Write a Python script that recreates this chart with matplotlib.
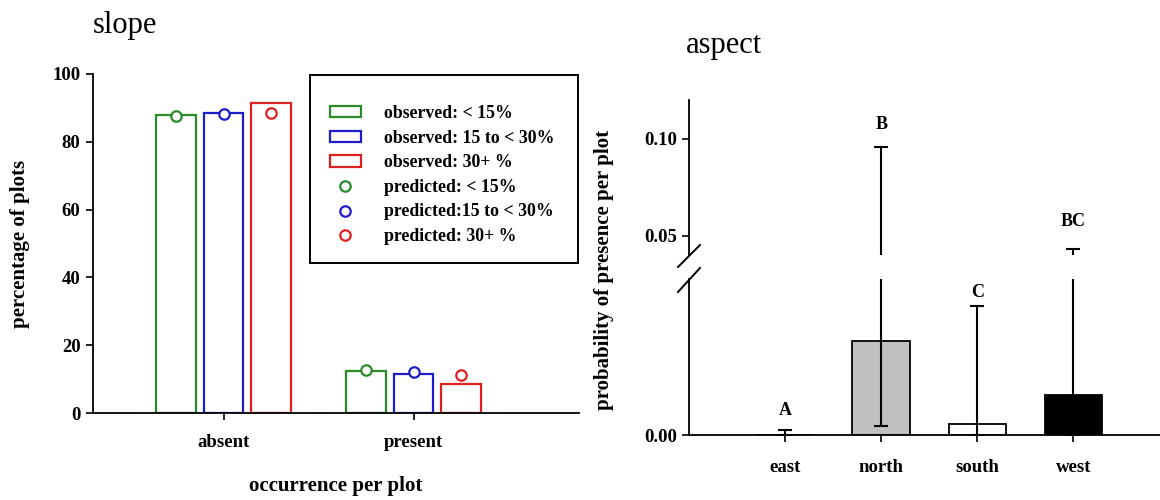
import numpy as np
import matplotlib
matplotlib.use("Agg")
import matplotlib.pyplot as plt
from matplotlib.patches import Patch, Rectangle
from matplotlib.lines import Line2D

plt.rcParams['font.family'] = ['Liberation Serif', 'DejaVu Serif']
plt.rcParams['font.weight'] = 'bold'
plt.rcParams['axes.labelweight'] = 'bold'

# slope panel data
occurrence = ["absent", "present"]
slope_classes = ["< 15%", "15 to < 30%", "30+ %"]
observed = {"< 15%": [87.8, 12.3], "15 to < 30%": [88.5, 11.5], "30+ %": [91.3, 8.7]}
predicted = {"< 15%": [87.6, 12.7], "15 to < 30%": [88.1, 12.0], "30+ %": [88.6, 11.3]}
slope_colors = ["#2a8a2a", "#1c1cc8", "#e02020"]
obs_labels = ["observed: < 15%", "observed: 15 to < 30%", "observed: 30+ %"]
pred_labels = ["predicted: < 15%", "predicted:15 to < 30%", "predicted: 30+ %"]

# aspect panel data
aspects = ["east", "north", "south", "west"]
prob = [0.0, 0.0120, 0.0014, 0.0051]
err_low = [0.0, 0.0109, 0.0014, 0.0051]
err_high = [0.00064, 0.0839, 0.0152, 0.0380]
aspect_fill = ["white", "#c0c0c0", "white", "black"]
letters = ["A", "B", "C", "BC"]
letter_y = [0.0032, 0.1076, 0.0183, 0.0572]

W, H = 1160, 500
fig = plt.figure(figsize=(W / 100, H / 100), dpi=100)

def fpos(l, r, t, b):
    return [l / W, 1 - b / H, (r - l) / W, (b - t) / H]

TICK = 13.5

##########################################################################
# slope
ax = fig.add_axes(fpos(93, 579, 74, 413))
x = np.arange(len(occurrence))
bw = 0.21
step = 0.25
for i, cls in enumerate(slope_classes):
    xi = x + (i - 1) * step
    ax.bar(xi, observed[cls], width=bw, facecolor="white", edgecolor=slope_colors[i], linewidth=1.6)
    ax.plot(xi, predicted[cls], 'o', mfc="white", mec=slope_colors[i], mew=1.6, ms=7.5, zorder=5)
ax.set_xlim(-0.687, 1.871)
ax.set_ylim(0, 100)
ax.set_yticks([0, 20, 40, 60, 80, 100])
ax.set_xticks(x)
ax.set_xticklabels(occurrence)
for s in ["top", "right"]:
    ax.spines[s].set_visible(False)
for s in ["left", "bottom"]:
    ax.spines[s].set_linewidth(1.3)
ax.tick_params(axis='both', direction='out', length=5, width=1.2, labelsize=TICK, pad=4)
ax.tick_params(axis='x', pad=10)
ax.set_ylabel("percentage of plots", fontsize=15, labelpad=16)
fig.text(336 / W, 1 - 486 / H, "occurrence per plot", ha='center', va='center',
         fontsize=15, fontweight='bold')
fig.text(93 / W, 1 - 25 / H, "slope", ha='left', va='center', fontsize=22, fontweight='normal')

handles = []
labels = []
for i in range(3):
    handles.append(Patch(facecolor="white", edgecolor=slope_colors[i], linewidth=1.6))
    labels.append(obs_labels[i])
for i in range(3):
    handles.append(Line2D([], [], ls='none', marker='o', mfc="white", mec=slope_colors[i], mew=1.6, ms=7.5))
    labels.append(pred_labels[i])
leg = ax.legend(handles, labels, loc='upper left', bbox_to_anchor=(321 / W, 1 - 96 / H),
                bbox_transform=fig.transFigure, frameon=False, fontsize=12.8,
                handlelength=1.75, handleheight=0.6, handletextpad=1.3, labelspacing=0.43,
                borderpad=0.0)
fig.patches.append(Rectangle((310 / W, 1 - 263 / H), 268 / W, 188 / H, transform=fig.transFigure,
                             fill=False, edgecolor="black", linewidth=1.4))

##########################################################################
# aspect, broken axis
axl = fig.add_axes(fpos(689, 1160, 279, 435))
axu = fig.add_axes(fpos(689, 1160, 100, 255))
xa = np.arange(len(aspects))
for a in (axl, axu):
    a.bar(xa, prob, width=0.6, color=aspect_fill, edgecolor="black", linewidth=1.3)
    a.errorbar(xa, prob, yerr=[err_low, err_high], fmt='none', ecolor="black",
               elinewidth=1.5, capsize=5, capthick=1.5)
    a.set_xlim(-1, 3.9)
    for s in ["top", "right"]:
        a.spines[s].set_visible(False)
    a.spines["left"].set_linewidth(1.3)
    a.tick_params(axis='y', direction='out', length=5, width=1.2, labelsize=TICK)
axl.set_ylim(0, 0.02)
axu.set_ylim(0.04, 0.12)
axl.set_yticks([0.0])
axl.set_yticklabels(["0.00"])
axu.set_yticks([0.05, 0.10])
axu.set_yticklabels(["0.05", "0.10"])
axu.spines["bottom"].set_visible(False)
axu.set_xticks([])
axl.spines["bottom"].set_linewidth(1.3)
axl.set_xticks(xa)
axl.set_xticklabels(aspects)
axl.tick_params(axis='x', direction='out', length=5, width=1.2, labelsize=TICK, pad=12)

for i, lab in enumerate(letters):
    target = axl if letter_y[i] < 0.03 else axu
    target.text(xa[i], letter_y[i], lab, ha='center', va='center', fontsize=13, fontweight='bold')

# break marks on the y axis
for y0, y1 in [(267, 245), (292, 268)]:
    fig.add_artist(Line2D([678 / W, 700 / W], [1 - y0 / H, 1 - y1 / H], color="black",
                          linewidth=1.4, transform=fig.transFigure))

fig.text(604 / W, 1 - 270 / H, "probability of presence per plot", rotation=90,
         ha='center', va='center', fontsize=15, fontweight='bold')
fig.text(686 / W, 1 - 45 / H, "aspect", ha='left', va='center', fontsize=22, fontweight='normal')

fig.savefig("out.png", dpi=100)
